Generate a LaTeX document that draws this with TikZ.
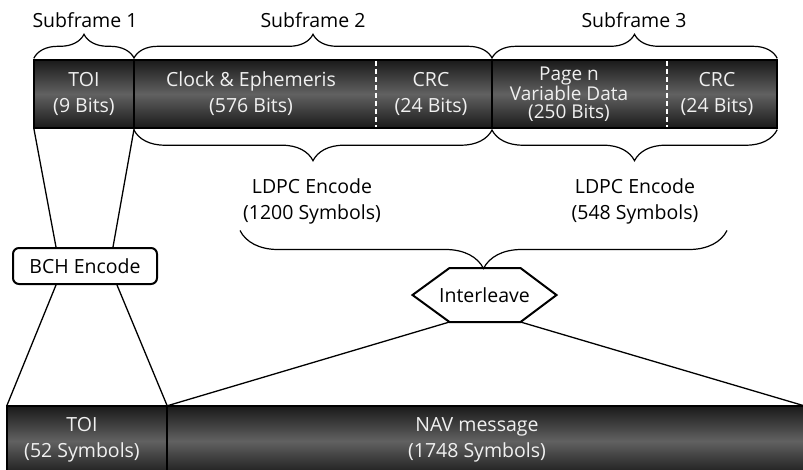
\documentclass[tikz,border=0pt]{standalone}
\usepackage{fontspec}
\setmainfont{Open Sans}
\usetikzlibrary{decorations.pathreplacing,calc}
\begin{document}
\begin{tikzpicture}[x=1pt,y=-1pt,
  cell/.style={rectangle,inner sep=0pt,minimum height=68pt,draw=none,
    top color=black!90,bottom color=black!90,middle color=black!62},
  intext/.style={text=white!94!black,align=center,font=\fontsize{19.5}{26}\selectfont,inner sep=0pt},
  outtext/.style={text=black,align=center,font=\fontsize{19.5}{26}\selectfont,inner sep=0pt},
  brc/.style={decorate,decoration={brace,amplitude=#1,raise=1.5pt},line width=1.2pt},
  conn/.style={line width=1.3pt},
  divline/.style={line width=2pt,draw=black},
  dashdiv/.style={line width=1.6pt,draw=white,dash pattern=on 5pt off 3pt,shorten >=1pt,shorten <=1pt}
]
\useasboundingbox (0,0) rectangle (803,469);

% top bar
\node[cell,minimum width=100pt] (toi1) at (84,94) {};
\node[cell,minimum width=242pt] (ce) at (255,94) {};
\node[cell,minimum width=116pt] (crc1) at (434,94) {};
\node[cell,minimum width=175pt] (pv) at (579.5,94) {};
\node[cell,minimum width=110pt] (crc2) at (722,94) {};
\draw[divline] (toi1.north west) rectangle (crc2.south east);
\draw[divline] (toi1.north east) -- (toi1.south east);
\draw[divline] (crc1.north east) -- (crc1.south east);
\draw[dashdiv] (ce.north east) -- (ce.south east);
\draw[dashdiv] (pv.north east) -- (pv.south east);

\node[intext] (t1) at (84,94) {TOI\\(9 Bits)};
\node[intext] (t2) at (251,94) {Clock \& Ephemeris\\(576 Bits)};
\node[intext] (t3) at (431,94) {CRC\\(24 Bits)};
\node[intext,font=\fontsize{19}{17.5}\selectfont] (t4) at (569,94) {Page n\\Variable Data\\(250 Bits)};
\node[intext] (t5) at (717,94) {CRC\\(24 Bits)};

% top braces
\draw[brc=24pt] (toi1.north west) -- (toi1.north east);
\draw[brc=24pt] (ce.north west) -- (crc1.north east);
\draw[brc=24pt] (pv.north west) -- (crc2.north east);
\node[outtext] (s1) at (85,20) {Subframe 1};
\node[outtext] (s2) at (313,20) {Subframe 2};
\node[outtext] (s3) at (634,20) {Subframe 3};

% LDPC braces
\draw[brc=31pt] (crc1.south east) -- (ce.south west);
\draw[brc=31pt] (crc2.south east) -- (pv.south west);
\node[outtext] (l1) at (312,201) {LDPC Encode\\(1200 Symbols)};
\node[outtext] (l2) at (635,201) {LDPC Encode\\(548 Symbols)};

% joining brace
\coordinate (bb1) at (240,229);
\coordinate (bb2) at (727,229);
\draw[brc=38pt] (bb2) -- (bb1);

% bottom bar
\node[cell,minimum width=160pt,minimum height=70pt] (toi2) at (87,441) {};
\node[cell,minimum width=637pt,minimum height=70pt] (nav) at (485.5,441) {};
\draw[divline] (toi2.north west) rectangle (nav.south east);
\draw[divline] (toi2.north east) -- (toi2.south east);
\node[intext] (b1) at (82,440) {TOI\\(52 Symbols)};
\node[intext] (b2) at (477,440) {NAV message\\(1748 Symbols)};

% BCH
\node[draw,line width=2pt,rounded corners=6pt,fill=white,minimum width=144pt,minimum height=36pt,inner sep=0pt,font=\fontsize{19.5}{26}\selectfont] (bch) at (85,266) {BCH Encode};
\draw[conn] (toi1.south west) -- ($(bch.north)+(-29,0)$);
\draw[conn] (toi1.south east) -- ($(bch.north)+(28,0)$);
\draw[conn] ($(bch.south)+(-29,0)$) -- (toi2.north west);
\draw[conn] ($(bch.south)+(32,0)$) -- (toi2.north east);

% Interleave
\node[outtext] (il) at (484.5,295) {Interleave};
\draw[line width=2pt,line join=miter] ($(il)+(-72,0)$) -- ($(il)+(-35,-27)$) -- ($(il)+(36,-27)$) -- ($(il)+(72,0)$) -- ($(il)+(36,27)$) -- ($(il)+(-35,27)$) -- cycle;
\draw[conn] ($(il)+(-35,27)$) -- (toi2.north east);
\draw[conn] ($(il)+(36,27)$) -- (nav.north east);
\end{tikzpicture}
\end{document}
